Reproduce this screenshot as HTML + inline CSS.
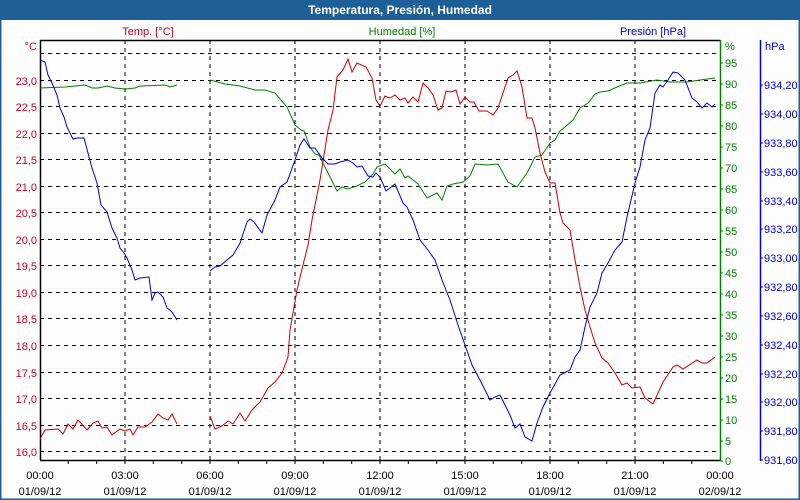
<!DOCTYPE html>
<html><head><meta charset="utf-8"><style>
html,body{margin:0;padding:0;background:#fff}
svg{display:block}
text{font-family:"Liberation Sans",sans-serif;font-size:11px}
</style></head><body>
<svg width="800" height="500" viewBox="0 0 800 500" xmlns="http://www.w3.org/2000/svg">
<rect x="0" y="0" width="800" height="500" fill="#fdfdfd"/>
<rect x="0.5" y="0.5" width="799" height="499" fill="none" stroke="#1f5f97" stroke-width="2"/>
<rect x="0" y="0" width="800" height="20" fill="#1f5f97"/>
<text x="400" y="14" text-anchor="middle" fill="#fff" font-weight="bold" style="font-size:12px">Temperatura, Presión, Humedad</text>

<g stroke="#000" stroke-dasharray="4,4" stroke-width="1">
<path d="M125 40V460M210 40V460M295 40V460M380 40V460M465 40V460M550 40V460M635 40V460"/>
<path d="M40 53.5H720M40 80.5H720M40 106.5H720M40 133.5H720M40 159.5H720M40 186.5H720M40 212.5H720M40 239.5H720M40 265.5H720M40 292.5H720M40 318.5H720M40 345.5H720M40 372.5H720M40 398.5H720M40 425.5H720M40 451.5H720"/>
</g>
<path d="M40.5 460V40.5H720" fill="none" stroke="#000" stroke-width="1.5"/>
<path d="M40 460.5H720" stroke="#000" stroke-width="1.5"/>
<g stroke="#000"><path d="M68.3 460v4M96.7 460v4M125 460v4M153.3 460v4M181.7 460v4M210 460v4M238.3 460v4M266.7 460v4M295 460v4M323.3 460v4M351.7 460v4M380 460v4M408.3 460v4M436.7 460v4M465 460v4M493.3 460v4M521.7 460v4M550 460v4M578.3 460v4M606.7 460v4M635 460v4M663.3 460v4M691.7 460v4"/></g>
<path d="M720.5 40V461" stroke="#008000" stroke-width="1.5"/>
<path d="M760.5 40V461" stroke="#0000cc" stroke-width="1.5"/>

<g fill="#cc0022" text-anchor="end">
<text x="37" y="50">°C</text>
<text x="37" y="85">23,0</text><text x="37" y="111">22,5</text><text x="37" y="138">22,0</text><text x="37" y="164">21,5</text><text x="37" y="191">21,0</text><text x="37" y="217">20,5</text><text x="37" y="244">20,0</text><text x="37" y="270">19,5</text><text x="37" y="297">19,0</text><text x="37" y="323">18,5</text><text x="37" y="350">18,0</text><text x="37" y="377">17,5</text><text x="37" y="403">17,0</text><text x="37" y="430">16,5</text><text x="37" y="456">16,0</text>
</g>
<text x="148" y="35" fill="#cc0022" text-anchor="middle">Temp. [°C]</text>
<text x="402" y="35" fill="#008000" text-anchor="middle">Humedad [%]</text>
<text x="653" y="35" fill="#0000cc" text-anchor="middle">Presión [hPa]</text>

<g fill="#008000">
<text x="725" y="50">%</text>
<text x="725" y="67">95</text><text x="725" y="88">90</text><text x="725" y="109">85</text><text x="725" y="130">80</text><text x="725" y="151">75</text><text x="725" y="172">70</text><text x="725" y="193">65</text><text x="725" y="214">60</text><text x="725" y="235">55</text><text x="725" y="256">50</text><text x="725" y="277">45</text><text x="725" y="298">40</text><text x="725" y="319">35</text><text x="725" y="340">30</text><text x="725" y="361">25</text><text x="725" y="382">20</text><text x="725" y="403">15</text><text x="725" y="424">10</text><text x="725" y="445">5</text><text x="725" y="465">0</text>
</g>
<g stroke="#008000"><path d="M720 63h3M720 84h3M720 105h3M720 126h3M720 147h3M720 168h3M720 189h3M720 210h3M720 231h3M720 252h3M720 273h3M720 294h3M720 315h3M720 336h3M720 357h3M720 378h3M720 399h3M720 420h3M720 441h3M720 461h3"/></g>

<g fill="#0000cc">
<text x="765" y="50">hPa</text>
<text x="764" y="89">934,20</text><text x="764" y="118">934,00</text><text x="764" y="147">933,80</text><text x="764" y="176">933,60</text><text x="764" y="205">933,40</text><text x="764" y="233">933,20</text><text x="764" y="262">933,00</text><text x="764" y="291">932,80</text><text x="764" y="320">932,60</text><text x="764" y="349">932,40</text><text x="764" y="378">932,20</text><text x="764" y="406">932,00</text><text x="764" y="435">931,80</text><text x="764" y="464">931,60</text>
</g>
<g stroke="#0000cc"><path d="M760 85h3M760 114h3M760 143h3M760 172h3M760 201h3M760 229h3M760 258h3M760 287h3M760 316h3M760 345h3M760 374h3M760 402h3M760 431h3M760 460h3"/></g>

<g fill="#000" text-anchor="middle">
<text x="40" y="479">00:00</text><text x="40" y="495">01/09/12</text>
<text x="125" y="479">03:00</text><text x="125" y="495">01/09/12</text>
<text x="210" y="479">06:00</text><text x="210" y="495">01/09/12</text>
<text x="295" y="479">09:00</text><text x="295" y="495">01/09/12</text>
<text x="380" y="479">12:00</text><text x="380" y="495">01/09/12</text>
<text x="465" y="479">15:00</text><text x="465" y="495">01/09/12</text>
<text x="550" y="479">18:00</text><text x="550" y="495">01/09/12</text>
<text x="635" y="479">21:00</text><text x="635" y="495">01/09/12</text>
<text x="720" y="479">00:00</text><text x="720" y="495">02/09/12</text>
</g>

<g fill="none" stroke-width="1">
<polyline stroke="#008000" points="40,88 65,87 85,85 92,88 98,88 107,86 115,88 125,89 135,88 140,86 165,85 170,87 177,85"/>
<polyline stroke="#008000" points="210,80 218,82 225,84 240,86 255,90 265,90 275,93 280,99 287,107 295,125 301,130 304,131 310,147 315,154 319,155 323,163 328,173 337,191 342,187 347,189 357,186 365,182 373,174 377,167 385,164 395,174 400,169 405,178 408,176 418,184 427,198 437,193 442,200 447,186 453,184 463,182 470,176 475,164 487,165 498,164 508,182 517,187 527,173 535,157 542,155 550,143 555,140 560,131 565,127 573,120 580,108 588,103 595,94 600,92 608,91 617,87 627,83 640,83 657,80 670,82 687,82 700,80 715,78"/>
<polyline stroke="#cc0000" points="40,439 45,430 58,429 63,434 68,424 73,429 78,420 87,430 93,423 98,421 102,428 107,427 112,435 120,429 125,431 130,429 133,435 138,427 145,427 152,422 158,414 163,418 168,420 172,414 177,424"/>
<polyline stroke="#cc0000" points="210,416 215,429 222,426 228,421 233,424 240,413 245,421 252,410 260,402 268,388 275,382 282,373 288,357 290,330 297,290 303,265 308,245 312,220 320,180 328,130 333,110 337,77 343,70 348,59 352,72 357,63 366,67 372,78 376,100 380,106 385,96 390,98 395,95 400,100 405,98 408,103 413,97 418,102 423,83 428,88 433,95 438,110 442,108 446,91 451,92 456,90 460,104 465,97 470,102 474,102 479,111 487,111 493,115 498,108 503,93 508,78 513,75 517,71 522,87 527,118 532,118 535,128 540,153 545,172 550,183 555,183 560,213 563,223 570,230 575,260 580,287 585,310 590,327 595,343 602,358 608,363 615,373 622,385 627,383 632,388 640,387 645,398 653,404 663,382 673,367 677,365 683,369 697,360 702,363 707,363 715,357"/>
<polyline stroke="#0000cc" points="40,60 45,62 48,75 52,83 57,95 60,108 64,117 67,127 70,133 73,139 77,138 84,138 88,153 92,168 97,183 101,205 107,212 112,228 117,238 120,248 124,253 127,258 132,270 135,280 140,278 149,277 152,300 155,293 158,292 163,297 167,308 172,312 177,320"/>
<polyline stroke="#0000cc" points="210,271 215,267 220,266 227,260 233,255 240,243 247,222 250,219 254,222 262,233 267,215 275,200 280,187 287,182 295,160 300,145 304,139 310,148 315,148 322,158 328,164 335,164 340,162 348,160 353,163 357,167 362,166 368,176 373,177 376,173 380,177 386,191 395,184 403,203 407,207 413,220 420,240 428,250 435,260 442,280 450,300 458,325 465,345 472,365 480,380 485,390 490,400 495,397 500,395 505,405 510,415 515,428 520,424 525,437 532,441 537,423 543,407 550,393 560,375 570,370 575,357 580,350 585,327 590,307 597,293 602,273 608,263 615,250 622,242 627,217 635,183 640,167 645,140 650,128 655,93 660,85 663,87 668,80 673,72 678,73 685,80 692,98 697,102 702,108 707,103 712,107 715,104"/>
</g>
</svg>
</body></html>
